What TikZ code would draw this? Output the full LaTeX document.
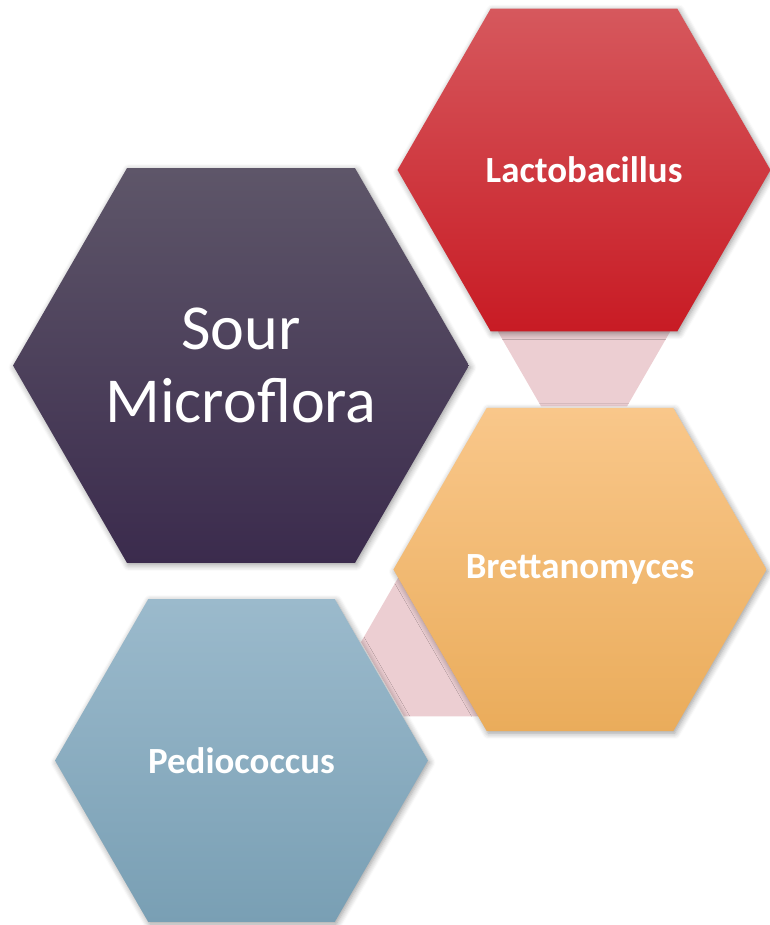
\documentclass[tikz,border=0pt]{standalone}
\usepackage{fontspec}
\setmainfont{Carlito}
\usetikzlibrary{shapes.geometric,shadows.blur,backgrounds}
\definecolor{floratop}{HTML}{5E5669}
\definecolor{floramid}{HTML}{433755}
\definecolor{florabot}{HTML}{3B2B4D}
\definecolor{lactotop}{HTML}{D6585D}
\definecolor{lactomid}{HTML}{D82D36}
\definecolor{lactobot}{HTML}{C81B24}
\definecolor{bretttop}{HTML}{F9C78A}
\definecolor{brettmid}{HTML}{FABE71}
\definecolor{brettbot}{HTML}{EAAC5B}
\definecolor{pediotop}{HTML}{9BBACC}
\definecolor{pediomid}{HTML}{8DB1C5}
\definecolor{pediobot}{HTML}{799FB4}
\definecolor{linkpink}{HTML}{ECCED2}

\begin{document}
\begin{tikzpicture}[x=0.02cm, y=-0.02cm,
  hexbase/.style={regular polygon, regular polygon sides=6, inner sep=0pt, text=white, align=center,
    blur shadow={shadow blur steps=6, shadow xshift=0.3mm, shadow yshift=-0.4mm, shadow blur radius=1.2mm, shadow opacity=40}},
  hexbig/.style={hexbase, minimum size=9.12cm, font=\fontsize{36.5}{41.5}\selectfont},
  hexsmall/.style={hexbase, minimum size=7.46cm, font=\fontsize{21}{25}\selectfont\bfseries},
  linkhex/.style={regular polygon, regular polygon sides=6, inner sep=0pt, minimum size=3.44cm, fill=linkpink}
]
  \useasboundingbox (0,0) rectangle (769,925);

  % the four hexagons
  \node[hexbig, top color=floratop, middle color=floramid, bottom color=florabot] (flora) at (241,365.5) {Sour\\Microflora};
  \node[hexsmall, top color=lactotop, middle color=lactomid, bottom color=lactobot] (lacto) at (584,170) {Lactobacillus};
  \node[hexsmall, top color=bretttop, middle color=brettmid, bottom color=brettbot] (brett) at (580,569.5) {Brettanomyces};
  \node[hexsmall, top color=pediotop, middle color=pediomid, bottom color=pediobot] (pedio) at (241.5,760.5) {Pediococcus};

  % pink links behind them
  \begin{scope}[on background layer]
    \node[linkhex] (link1) at (lacto.south) {};
    \node[linkhex] (link2) at (447,642) {};
  \end{scope}
\end{tikzpicture}
\end{document}
